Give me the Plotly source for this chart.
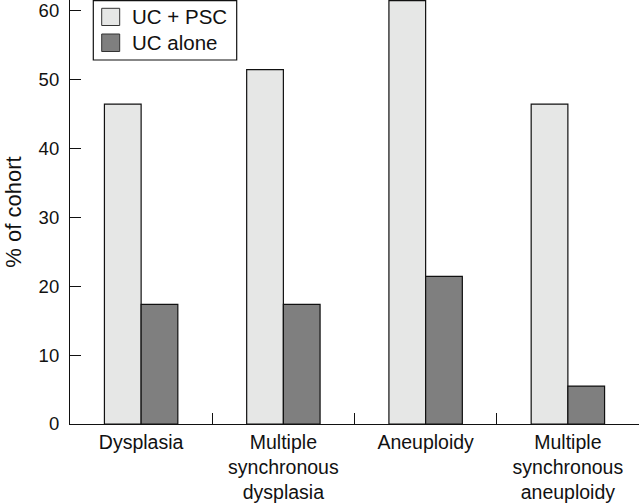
import plotly.graph_objects as go

categories = ["Dysplasia", "Multiple<br>synchronous<br>dysplasia", "Aneuploidy", "Multiple<br>synchronous<br>aneuploidy"]
uc_psc = [46.4, 51.4, 61.4, 46.4]
uc_alone = [17.35, 17.35, 21.4, 5.5]
y_ticks = [0, 10, 20, 30, 40, 50, 60]
series_names = ["UC + PSC", "UC alone"]
series_colors = ["#e6e7e6", "#7f7f7f"]

FONT = "Liberation Sans, Arial, Helvetica, sans-serif"
INK = "#111111"
PLOT_W, PLOT_H = 569.0, 424.0  # plot area size in px (for legend box placement)

fig = go.Figure()
for name, vals, col in zip(series_names, [uc_psc, uc_alone], series_colors):
    fig.add_trace(go.Bar(
        x=categories, y=vals, name=name, showlegend=False,
        marker=dict(color=col, line=dict(color=INK, width=1.2)),
    ))

# hand-drawn legend box (paper coordinates derived from pixel layout)
def px_x(p):
    return (p - 70.0) / PLOT_W

def px_y(p):
    return 1.0 - p / PLOT_H

fig.add_shape(type="rect", xref="paper", yref="paper",
              x0=px_x(93.3), x1=px_x(236.7), y0=px_y(60), y1=px_y(0.6),
              line=dict(color=INK, width=1.2), fillcolor="white", layer="above")
rows = [(8.3, 25.5, 16.9), (34.0, 51.5, 42.7)]
for (top, bot, mid), name, col in zip(rows, series_names, series_colors):
    fig.add_shape(type="rect", xref="paper", yref="paper",
                  x0=px_x(101.7), x1=px_x(119.7), y0=px_y(bot), y1=px_y(top),
                  line=dict(color="#333333", width=1), fillcolor=col, layer="above")
    fig.add_annotation(xref="paper", yref="paper", x=px_x(129.5), y=px_y(mid),
                       xanchor="left", yanchor="middle", showarrow=False,
                       text=name, font=dict(size=20.5, family=FONT, color=INK))

fig.update_layout(
    template="none",
    width=640, height=503,
    margin=dict(l=70, r=1, t=0, b=79, pad=0),
    paper_bgcolor="white", plot_bgcolor="white",
    barmode="group", bargap=0.484, bargroupgap=0,
    font=dict(family=FONT, color=INK),
    showlegend=False,
)
fig.update_xaxes(
    automargin=False,
    showline=True, linecolor=INK, linewidth=1.2,
    ticks="inside", ticklen=11, tickcolor=INK, tickwidth=1.2,
    tickson="boundaries", showgrid=False, zeroline=False,
    tickfont=dict(size=19.5, family=FONT), ticklabelstandoff=0,
)
fig.update_yaxes(
    automargin=False,
    range=[0, 61.5], tickvals=y_ticks,
    showline=True, linecolor=INK, linewidth=1.2,
    ticks="inside", ticklen=11, tickcolor=INK, tickwidth=1.2,
    showgrid=False, zeroline=False, ticklabeloverflow="allow",
    tickfont=dict(size=18.5, family=FONT), ticklabelstandoff=6,
    title=dict(text="% of cohort", font=dict(size=22, family=FONT), standoff=10),
)

fig.write_html(
    "out.html",
    config={"displayModeBar": False},
    post_script="document.body.style.margin='0';document.body.style.overflow='hidden';",
)
